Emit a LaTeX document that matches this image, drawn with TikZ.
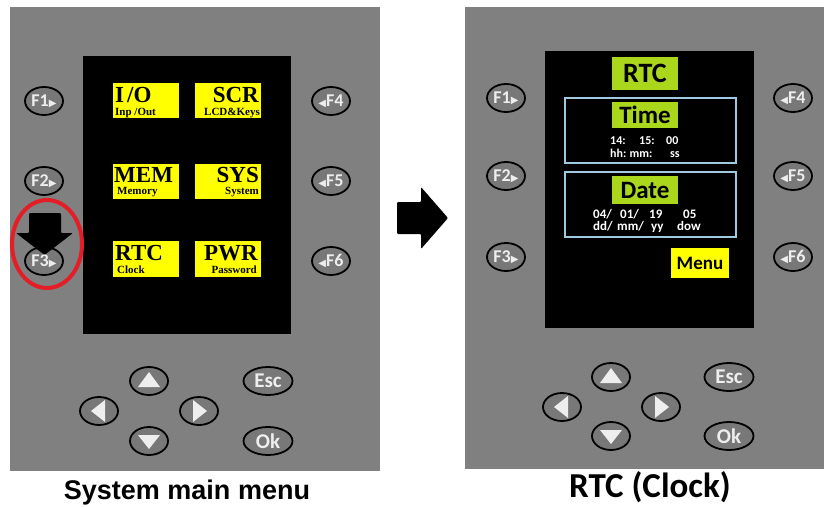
\documentclass[tikz,border=0pt]{standalone}
\usepackage{fontspec}
\setmainfont{Carlito}
\newfontfamily\capfont{Liberation Sans}
\newfontfamily\lcdfont{Liberation Serif}
\newfontfamily\symfont{DejaVu Sans}
\usetikzlibrary{arrows,shapes.geometric}
\definecolor{panelgray}{RGB}{128,128,128}
\definecolor{keygray}{RGB}{120,120,120}
\definecolor{keywhite}{RGB}{238,238,238}
\definecolor{lcdyellow}{RGB}{255,255,0}
\definecolor{lcdgreen}{RGB}{170,214,28}
\definecolor{frameblue}{RGB}{160,200,222}
\definecolor{ringred}{RGB}{228,30,38}
\tikzstyle{key} = [ellipse, draw=black, line width=1.8pt, fill=keygray, minimum width=38pt, minimum height=28pt, inner sep=0pt, text=keywhite, font=\bfseries\fontsize{18}{18}\selectfont]
\tikzstyle{wkey} = [key, minimum width=49pt, font=\bfseries\fontsize{21}{21}\selectfont]
\tikzstyle{tri} = [fill=keywhite]
\tikzstyle{big} = [inner sep=0pt, text depth=0pt, font=\lcdfont\bfseries\fontsize{23}{23}\selectfont]
\tikzstyle{small} = [inner sep=0pt, text height=7pt, font=\lcdfont\bfseries\fontsize{11}{11}\selectfont]
\tikzstyle{gbox} = [fill=lcdgreen, inner sep=0pt, minimum width=66pt, font=\bfseries\fontsize{25}{25}\selectfont]
\tikzstyle{digits} = [inner sep=0pt, anchor=base west, text=white, font=\bfseries\fontsize{12}{12}\selectfont]
\tikzstyle{frame} = [draw=frameblue, line width=1.6pt]
\newcommand{\keyright}{{\symfont\fontsize{10}{10}\selectfont ▶}}
\newcommand{\keyleft}{{\symfont\fontsize{10}{10}\selectfont ◀}}

\begin{document}
\begin{tikzpicture}[yscale=-1]
			\useasboundingbox (0pt,0pt) rectangle (824pt,506pt);
			\fill[panelgray] (10pt,7pt) rectangle (380pt,471pt);
			\fill[panelgray] (465pt,7pt) rectangle (824pt,469pt);
			\fill[black] (83pt,56pt) rectangle (291pt,334pt);
			\fill[black] (545pt,51pt) rectangle (754pt,328pt);
			\fill[lcdyellow] (113pt,83pt) rectangle (179pt,118pt);
			\node[big, anchor=base west] (io) at (115pt,102pt) {I\kern3pt/O};
			\node[small, anchor=base west] (iosub) at (115pt,115pt) {Inp /Out};
			\fill[lcdyellow] (195pt,83pt) rectangle (261pt,118pt);
			\node[big, anchor=base east] (scr) at (259pt,102pt) {SCR};
			\node[small, anchor=base east] (scrsub) at (260pt,115pt) {LCD\&Keys};
			\fill[lcdyellow] (113pt,164pt) rectangle (179pt,199pt);
			\node[big, anchor=base west] (mem) at (114pt,182pt) {MEM};
			\node[small, anchor=base west] (memsub) at (117pt,194pt) {Memory};
			\fill[lcdyellow] (195pt,164pt) rectangle (261pt,199pt);
			\node[big, anchor=base east] (sys) at (259pt,182pt) {SYS};
			\node[small, anchor=base east] (syssub) at (259pt,194pt) {System};
			\fill[lcdyellow] (113pt,241pt) rectangle (179pt,277pt);
			\node[big, anchor=base west] (rtc) at (115pt,260pt) {RTC};
			\node[small, anchor=base west] (rtcsub) at (117pt,273pt) {Clock};
			\fill[lcdyellow] (195pt,241pt) rectangle (261pt,277pt);
			\node[big, anchor=base east] (pwr) at (258pt,260pt) {PWR};
			\node[small, anchor=base east] (pwrsub) at (257pt,273pt) {Password};
			\node[key] (mf1) at (44pt,101pt) {F1\keyright};
			\node[key] (mf2) at (44pt,181pt) {F2\keyright};
			\node[key] (mf3) at (44pt,261pt) {F3\keyright};
			\node[key] (mf4) at (331pt,101pt) {\keyleft F4};
			\node[key] (mf5) at (331pt,181pt) {\keyleft F5};
			\node[key] (mf6) at (331pt,261pt) {\keyleft F6};
			\draw[ringred, line width=4pt] (47pt,244pt) ellipse (35pt and 44pt);
			\fill[black, rounded corners=1pt] (29pt,213pt) -- (61pt,213pt) -- (61pt,233pt) -- (73pt,233pt) -- (44.5pt,255pt) -- (16pt,233pt) -- (29pt,233pt) -- cycle;
			\node[key] (mup) at (149pt,381pt) {};
			\node[key] (mleft) at (99pt,411pt) {};
			\node[key] (mright) at (199pt,411pt) {};
			\node[key] (mdown) at (149pt,441pt) {};
			\fill[tri] (mup.center) ++(-11pt,6pt) -- ++(22pt,0pt) -- ++(-11pt,-15pt) -- cycle;
			\fill[tri] (mdown.center) ++(-11pt,-6pt) -- ++(22pt,0pt) -- ++(-11pt,14pt) -- cycle;
			\fill[tri] (mleft.center) ++(6pt,-11pt) -- ++(0pt,22pt) -- ++(-14pt,-11pt) -- cycle;
			\fill[tri] (mright.center) ++(-6pt,-11pt) -- ++(0pt,22pt) -- ++(14pt,-11pt) -- cycle;
			\node[wkey] (mesc) at (268pt,381pt) {Esc};
			\node[wkey] (mok) at (268pt,441pt) {Ok};
			\fill[black, rounded corners=1pt] (397pt,202pt) -- (421pt,202pt) -- (421pt,187pt) -- (448pt,218pt) -- (421pt,249pt) -- (421pt,234pt) -- (397pt,234pt) -- cycle;
			\node[gbox, minimum height=33pt, font=\bfseries\fontsize{28}{28}\selectfont] (title) at (645pt,73.5pt) {RTC};
			\draw[frame] (565pt,98pt) rectangle (736pt,163pt);
			\node[gbox, minimum height=26pt] (time) at (645pt,115pt) {Time};
			\node[digits] (clock) at (610pt,144pt) {\makebox[29pt][l]{14:}\makebox[27pt][l]{15:}00};
			\node[digits] (clockfmt) at (610pt,157pt) {\makebox[19.5pt][l]{hh:}\makebox[40.5pt][l]{mm:}ss};
			\draw[frame] (565pt,172pt) rectangle (736pt,237pt);
			\node[gbox, minimum height=28pt] (date) at (645pt,190pt) {Date};
			\node[digits, font=\bfseries\fontsize{13}{13}\selectfont] (day) at (593pt,218pt) {\makebox[27pt][l]{04/}\makebox[29pt][l]{01/}\makebox[34pt][l]{19}05};
			\node[digits, font=\bfseries\fontsize{13}{13}\selectfont] (dayfmt) at (593pt,230pt) {\makebox[24pt][l]{dd/}\makebox[34pt][l]{mm/}\makebox[26pt][l]{yy}dow};
			\node[fill=lcdyellow, minimum width=58pt, minimum height=30pt, inner sep=0pt, font=\bfseries\fontsize{19}{19}\selectfont] (menu) at (700pt,263pt) {Menu};
			\node[key] (cf1) at (506pt,98pt) {F1\keyright};
			\node[key] (cf2) at (506pt,176pt) {F2\keyright};
			\node[key] (cf3) at (506pt,257pt) {F3\keyright};
			\node[key] (cf4) at (793pt,98pt) {\keyleft F4};
			\node[key] (cf5) at (793pt,176pt) {\keyleft F5};
			\node[key] (cf6) at (793pt,257pt) {\keyleft F6};
			\node[key] (cup) at (611pt,377pt) {};
			\node[key] (cleft) at (562pt,407pt) {};
			\node[key] (cright) at (661pt,407pt) {};
			\node[key] (cdown) at (611pt,436pt) {};
			\fill[tri] (cup.center) ++(-11pt,6pt) -- ++(22pt,0pt) -- ++(-11pt,-15pt) -- cycle;
			\fill[tri] (cdown.center) ++(-11pt,-6pt) -- ++(22pt,0pt) -- ++(-11pt,14pt) -- cycle;
			\fill[tri] (cleft.center) ++(6pt,-11pt) -- ++(0pt,22pt) -- ++(-14pt,-11pt) -- cycle;
			\fill[tri] (cright.center) ++(-6pt,-11pt) -- ++(0pt,22pt) -- ++(14pt,-11pt) -- cycle;
			\node[wkey] (cesc) at (729pt,377pt) {Esc};
			\node[wkey] (cok) at (729pt,436pt) {Ok};
			\node[anchor=base, font=\capfont\bfseries\fontsize{27}{27}\selectfont] (menucap) at (187pt,499pt) {System main menu};
			\node[anchor=base, font=\bfseries\fontsize{35}{35}\selectfont] (rtccap) at (650pt,497pt) {RTC (Clock)};
		\end{tikzpicture}
\end{document}
